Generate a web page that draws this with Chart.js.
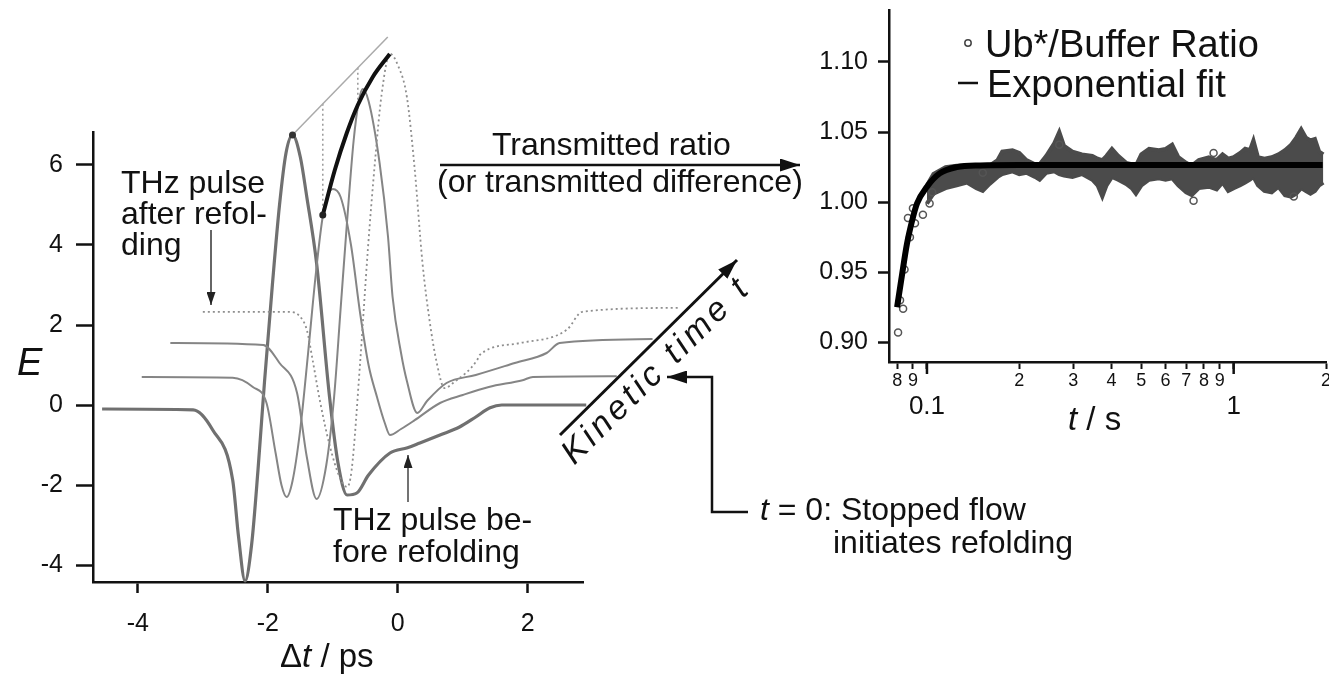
<!DOCTYPE html>
<html>
<head>
<meta charset="utf-8">
<script src="https://cdn.jsdelivr.net/npm/chart.js@4.4.0/dist/chart.umd.min.js"></script>
<style>
  html, body { margin: 0; padding: 0; background: #fff; overflow: hidden; }
  body { width: 1329px; height: 677px; position: relative; font-family: "Liberation Sans", Arial, sans-serif; color: #111; }
  canvas { position: absolute; top: 0; }
  #plot1 { left: 0; }
  #plot2 { left: 800px; }
  .txt { position: absolute; white-space: nowrap; line-height: 1; font-size: 32px; }
  svg { position: absolute; left: 0; top: 0; }
</style>
</head>
<body>
<canvas id="plot1" width="840" height="677"></canvas>
<canvas id="plot2" width="540" height="440"></canvas>

<!-- textos -->
<div class="txt" style="left:17px; top:343px; font-size:38px; font-style:italic;">E</div>
<div class="txt" style="left:280px; top:639px; font-size:33px;">&Delta;<i>t</i> / ps</div>
<div class="txt" style="left:1068px; top:402px; font-size:33px;"><i>t</i> / s</div>
<div class="txt" style="left:121px; top:167px; line-height:31px;">THz pulse<br>after refol-<br>ding</div>
<div class="txt" style="left:333px; top:503px; line-height:32px;">THz pulse be-<br>fore refolding</div>
<div class="txt" style="left:492px; top:128px;">Transmitted ratio</div>
<div class="txt" style="left:437px; top:165px;">(or transmitted difference)</div>
<div class="txt" style="left:760px; top:493px;"><i>t</i> = 0: Stopped flow</div>
<div class="txt" style="left:833px; top:526px;">initiates refolding</div>
<div class="txt" style="left:985px; top:25px; font-size:38px;">Ub*/Buffer Ratio</div>
<div class="txt" style="left:987px; top:65px; font-size:38px;">Exponential fit</div>
<div class="txt" style="left:655px; top:369px; font-size:34px; font-style:italic; letter-spacing:4px; transform:translate(-50%,-50%) rotate(-44.7deg);">Kinetic time <i>t</i></div>

<svg width="1329" height="677">
  <defs>
    <marker id="grande" viewBox="0 0 10 10" refX="10" refY="5" markerUnits="userSpaceOnUse" markerWidth="20" markerHeight="13" preserveAspectRatio="none" orient="auto">
      <path d="M0,0 L10,5 L0,10 z" fill="#111"/>
    </marker>
    <marker id="chica" viewBox="0 0 10 10" refX="10" refY="5" markerUnits="userSpaceOnUse" markerWidth="13" markerHeight="9" preserveAspectRatio="none" orient="auto">
      <path d="M0,0 L10,5 L0,10 z" fill="#222"/>
    </marker>
  </defs>
  <line x1="211" y1="230" x2="211" y2="305" stroke="#333" stroke-width="1.5" marker-end="url(#chica)"/>
  <line x1="408" y1="502" x2="408" y2="455" stroke="#444" stroke-width="1.5" marker-end="url(#chica)"/>
  <line x1="440" y1="165" x2="800" y2="165" stroke="#111" stroke-width="2.5" marker-end="url(#grande)"/>
  <line x1="560" y1="435" x2="737" y2="260" stroke="#111" stroke-width="3" marker-end="url(#grande)"/>
  <polyline points="748,512 712,512 712,377 667,377" fill="none" stroke="#111" stroke-width="2.5" marker-end="url(#grande)"/>
  <!-- leyenda -->
  <circle cx="968" cy="43" r="3.2" fill="none" stroke="#444" stroke-width="1.5"/>
  <line x1="958" y1="83" x2="978" y2="83" stroke="#111" stroke-width="2.5"/>
</svg>

<script>
// ===== Grafico 1: pulsos THz =====
let ejeXTicks = [-4, -2, 0, 2];
let ejeYTicks = [-4, -2, 0, 2, 4, 6];

// pulso antes del replegamiento (trazo grueso)
let tA = [-4.55, -3.15, -2.85, -2.54, -2.45, -2.35, -2.25, -2.15, -2.05, -1.93, -1.82, -1.72, -1.62, -1.5, -1.4, -1.25, -1.05, -0.92, -0.78, -0.63, -0.45, -0.12, 0.15, 0.34, 0.65, 0.95, 1.2, 1.42, 1.6, 2.9];
let eA = [-0.1, -0.12, -0.62, -1.88, -3.3, -4.4, -3.5, -1.6, 0.6, 3.0, 5.0, 6.3, 6.75, 6.2, 5.2, 3.55, 0.2, -1.45, -2.25, -2.2, -1.75, -1.2, -1.07, -0.95, -0.75, -0.55, -0.3, -0.07, 0, 0];

// pulsos intermedios
let tB = [-3.94, -2.54, -2.23, -2.02, -1.88, -1.79, -1.71, -1.62, -1.5, -1.38, -1.26, -1.15, -1.0, -0.88, -0.72, -0.58, -0.45, -0.32, -0.2, -0.12, 0.05, 0.26, 0.65, 1.0, 1.4, 1.92, 2.08, 3.37];
let eB = [0.7, 0.68, 0.45, 0.05, -1.2, -2.0, -2.3, -1.9, -0.6, 1.3, 3.3, 4.75, 5.4, 5.2, 4.0, 2.3, 1.0, 0.2, -0.45, -0.75, -0.6, -0.38, 0.05, 0.25, 0.45, 0.62, 0.7, 0.72];

let tC = [-3.5, -2.07, -1.82, -1.55, -1.4, -1.25, -1.1, -0.98, -0.88, -0.78, -0.68, -0.6, -0.54, -0.45, -0.28, -0.15, -0.08, 0.05, 0.14, 0.3, 0.45, 0.75, 1.2, 1.8, 2.29, 2.49, 3.92];
let eC = [1.55, 1.5, 1.05, 0.3, -1.3, -2.35, -1.5, 0.2, 2.4, 4.6, 6.6, 7.6, 7.9, 7.6, 6.05, 4.2, 2.7, 1.3, 0.6, -0.2, 0.1, 0.55, 0.75, 1.05, 1.3, 1.55, 1.65];

// pulso despues del replegamiento (punteado)
let tD = [-3.0, -1.66, -1.51, -1.4, -1.31, -1.2, -1.05, -0.89, -0.78, -0.71, -0.58, -0.46, -0.35, -0.25, -0.12, 0.0, 0.14, 0.26, 0.38, 0.49, 0.6, 0.72, 0.85, 1.22, 1.26, 1.88, 2.6, 2.84, 4.34];
let eD = [2.33, 2.33, 2.22, 1.88, 1.12, 0.12, -1.0, -1.82, -2.05, -1.62, 1.05, 3.9, 6.1, 7.75, 8.78, 8.5, 7.7, 5.9, 3.55, 2.1, 1.05, 0.42, 0.55, 1.12, 1.25, 1.55, 1.88, 2.33, 2.43];

// envolvente gris, lineas de caida y curva negra de picos
let tEnv = [-1.62, -0.154];
let eEnv = [6.75, 9.2];
let tCaida1 = [-1.154, -1.154];
let eCaida1 = [7.53, 4.75];
let tCaida2 = [-0.615, -0.615];
let eCaida2 = [8.43, 7.5];
let tNegra = [-1.154, -0.969, -0.785, -0.615, -0.385, -0.123];
let eNegra = [4.75, 5.875, 6.8, 7.5, 8.2, 8.775];
let puntosNegra = [3.5, 0, 0, 3.5, 0, 3.5];

// ===== Grafico 2: cociente Ub*/buffer =====
let xTicks = [0.08, 0.09, 0.1, 0.2, 0.3, 0.4, 0.5, 0.6, 0.7, 0.8, 0.9, 1, 2];
let xEtiquetas = ['8', '9', ['', '0.1'], '2', '3', '4', '5', '6', '7', '8', '9', ['', '1'], '2'];
let xMayores = [0.1, 1];
let yTicks = [0.90, 0.95, 1.00, 1.05, 1.10];

let tBanda = [0.100, 0.105, 0.115, 0.125, 0.135, 0.145, 0.152, 0.160, 0.170, 0.176,
  0.19, 0.20, 0.211, 0.225, 0.233, 0.245, 0.26, 0.27, 0.28, 0.298,
  0.32, 0.346, 0.36, 0.373, 0.385, 0.401, 0.42, 0.446, 0.465, 0.48,
  0.50, 0.53, 0.57, 0.60, 0.63, 0.66, 0.70, 0.73, 0.77, 0.83,
  0.88, 0.92, 0.96, 1.00, 1.05, 1.09, 1.13, 1.16, 1.20, 1.26,
  1.33, 1.40, 1.47, 1.54, 1.60, 1.66, 1.72, 1.78, 1.84, 1.90, 1.96];
let bandaAlta = [1.012, 1.020, 1.025, 1.026, 1.026, 1.025, 1.024, 1.026, 1.030, 1.036,
  1.037, 1.035, 1.030, 1.027, 1.027, 1.033, 1.042, 1.050, 1.040, 1.036,
  1.034, 1.033, 1.031, 1.030, 1.033, 1.038, 1.033, 1.028, 1.027, 1.026,
  1.034, 1.038, 1.037, 1.038, 1.041, 1.032, 1.028, 1.026, 1.030, 1.032,
  1.030, 1.034, 1.031, 1.032, 1.035, 1.038, 1.037, 1.044, 1.032, 1.031,
  1.032, 1.034, 1.037, 1.041, 1.046, 1.052, 1.046, 1.044, 1.045, 1.036, 1.034];
let bandaBaja = [0.999, 1.006, 1.010, 1.012, 1.014, 1.010, 1.008, 1.013, 1.018, 1.020,
  1.022, 1.020, 1.021, 1.018, 1.016, 1.021, 1.022, 1.020, 1.019, 1.018,
  1.020, 1.016, 1.012, 1.004, 1.012, 1.018, 1.016, 1.013, 1.010, 1.006,
  1.012, 1.016, 1.017, 1.016, 1.017, 1.012, 1.007, 1.005, 1.010, 1.011,
  1.009, 1.014, 1.008, 1.010, 1.012, 1.014, 1.016, 1.018, 1.012, 1.008,
  1.007, 1.011, 1.005, 1.004, 1.006, 1.010, 1.008, 1.006, 1.008, 1.012, 1.014];

// circulos sueltos
let tCirc = [0.0805, 0.0817, 0.0836, 0.0845, 0.0867, 0.088, 0.090, 0.0914, 0.097, 0.102, 0.104, 0.152, 0.270, 0.74, 0.86, 1.57];
let vCirc = [0.907, 0.930, 0.924, 0.952, 0.9886, 0.975, 0.9957, 0.985, 0.991, 0.999, 1.007, 1.021, 1.041, 1.001, 1.035, 1.004];

// ajuste exponencial
let tAjuste = [0.0799, 0.0825, 0.086, 0.0895, 0.0928, 0.1, 0.11, 0.125, 0.149, 0.2, 1.95];
let vAjuste = [0.925, 0.945, 0.970, 0.987, 0.999, 1.011, 1.0205, 1.025, 1.0262, 1.0265, 1.0265];

// ===== utilidades =====
let fuente = "'Liberation Sans', Arial, sans-serif";
Chart.defaults.font.family = fuente;
Chart.defaults.color = '#111';

let serie = (ts, vs) => ts.map((t, i) => ({x: t, y: vs[i]}));
let ponerTicks = (vals) => (scale) => { scale.ticks = vals.map(v => ({value: v})); };
// tamaño fijo del eje y sin relleno extra, para que el area quede donde en la figura
let sinRelleno = (scale) => { scale.paddingTop = 0; scale.paddingBottom = 0; scale.paddingLeft = 0; scale.paddingRight = 0; };
let fijarAncho = (w) => (scale) => { scale.width = w; sinRelleno(scale); };
let fijarAlto = (h) => (scale) => { scale.height = h; sinRelleno(scale); };

let traza = (ts, vs, color, ancho, extra) => Object.assign({
  data: serie(ts, vs),
  borderColor: color,
  borderWidth: ancho,
  pointRadius: 0,
  cubicInterpolationMode: 'monotone',
  clip: false,
  fill: false
}, extra || {});

let cargarPulsos = () => {
  let plotRef = document.getElementById('plot1');
  let config = {
    type: 'line',
    data: {
      datasets: [
        traza(tNegra, eNegra, '#111', 4, {pointRadius: puntosNegra, pointBackgroundColor: '#222', pointBorderWidth: 0}),
        traza(tEnv, eEnv, '#aaa', 1.5, {cubicInterpolationMode: 'default', pointRadius: [3.5, 0], pointBackgroundColor: '#333', pointBorderWidth: 0}),
        traza(tCaida1, eCaida1, '#999', 1.5, {cubicInterpolationMode: 'default', borderDash: [2, 3]}),
        traza(tCaida2, eCaida2, '#999', 1.5, {cubicInterpolationMode: 'default', borderDash: [2, 3]}),
        traza(tD, eD, '#8e8e8e', 1.8, {borderDash: [2, 3]}),
        traza(tC, eC, '#858585', 2),
        traza(tB, eB, '#858585', 2),
        traza(tA, eA, '#707070', 3.2)
      ]
    },
    options: {
      responsive: false,
      animation: false,
      events: [],
      layout: {padding: {left: 0, top: 132, right: 257, bottom: 0}},
      plugins: {legend: {display: false}, tooltip: {enabled: false}},
      scales: {
        x: {
          type: 'linear', min: -4.69, max: 2.85,
          afterBuildTicks: ponerTicks(ejeXTicks),
          afterFit: fijarAlto(95),
          grid: {drawOnChartArea: false, tickLength: 11, tickWidth: 2.5, tickColor: '#111'},
          border: {color: '#111', width: 2.5},
          ticks: {font: {size: 25}, padding: 16, maxRotation: 0, autoSkip: false}
        },
        y: {
          type: 'linear', min: -4.425, max: 6.825,
          afterBuildTicks: ponerTicks(ejeYTicks),
          afterFit: fijarAncho(93),
          grid: {drawOnChartArea: false, tickLength: 17, tickWidth: 2.5, tickColor: '#111'},
          border: {color: '#111', width: 2.5},
          ticks: {font: {size: 25}, padding: 13, autoSkip: false}
        }
      }
    }
  };
  new Chart(plotRef, config);
};

// marcas largas para 0.1 y 1
let marcasMayores = {
  id: 'marcasMayores',
  afterDraw(chart) {
    let ctx = chart.ctx;
    let escala = chart.scales.x;
    ctx.save();
    ctx.strokeStyle = '#111';
    ctx.lineWidth = 2.5;
    xMayores.forEach(v => {
      let px = escala.getPixelForValue(v);
      ctx.beginPath();
      ctx.moveTo(px, escala.top);
      ctx.lineTo(px, escala.top + 12);
      ctx.stroke();
    });
    ctx.restore();
  }
};

let cargarCociente = () => {
  let plotRef2 = document.getElementById('plot2');
  let config2 = {
    type: 'line',
    data: {
      datasets: [
        {data: serie(tAjuste, vAjuste), borderColor: '#000', borderWidth: 6, pointRadius: 0, cubicInterpolationMode: 'monotone', order: 0},
        {data: serie(tCirc, vCirc), showLine: false, pointRadius: 3.5, pointBorderWidth: 1.5, pointBorderColor: '#555', pointBackgroundColor: 'rgba(0,0,0,0)', order: 1},
        {data: serie(tBanda, bandaAlta), borderColor: '#4b4b4b', borderWidth: 4, pointRadius: 0, fill: '+1', backgroundColor: '#4b4b4b', order: 2},
        {data: serie(tBanda, bandaBaja), borderColor: '#4b4b4b', borderWidth: 4, pointRadius: 0, fill: false, order: 3}
      ]
    },
    options: {
      responsive: false,
      animation: false,
      events: [],
      layout: {padding: {left: 0, top: 10, right: 14, bottom: 0}},
      plugins: {legend: {display: false}, tooltip: {enabled: false}},
      scales: {
        x: {
          type: 'logarithmic', min: 0.0752, max: 2.0,
          afterBuildTicks: ponerTicks(xTicks),
          afterFit: fijarAlto(78),
          grid: {drawOnChartArea: false, tickLength: 7, tickWidth: 2, tickColor: '#111'},
          border: {color: '#111', width: 2.5},
          ticks: {
            autoSkip: false, maxRotation: 0, padding: 3,
            callback: (v, i) => xEtiquetas[i],
            font: (c) => (c.tick && xMayores.includes(c.tick.value)) ? {size: 26, lineHeight: 0.9} : {size: 18, lineHeight: 1}
          }
        },
        y: {
          type: 'linear', min: 0.886, max: 1.137,
          afterBuildTicks: ponerTicks(yTicks),
          afterFit: fijarAncho(89),
          grid: {drawOnChartArea: false, tickLength: 11, tickWidth: 2.5, tickColor: '#111'},
          border: {color: '#111', width: 2.5},
          ticks: {font: {size: 25}, padding: 10, autoSkip: false, callback: (v) => v.toFixed(2)}
        }
      }
    },
    plugins: [marcasMayores]
  };
  new Chart(plotRef2, config2);
};

(function(){
  cargarPulsos();
  cargarCociente();
})();
</script>
</body>
</html>
